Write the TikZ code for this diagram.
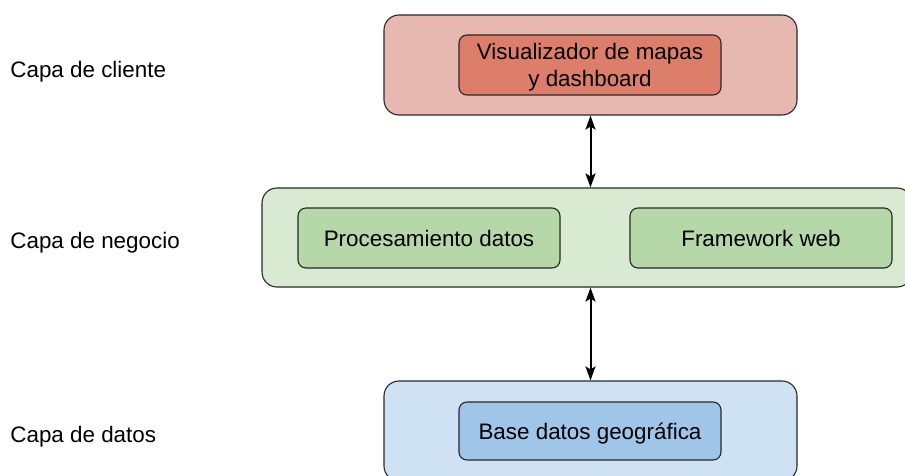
\documentclass[tikz,border=0pt]{standalone}
\usepackage{fontspec}
\setmainfont{Liberation Sans}
\usepackage{xcolor}
\usepackage{tikz}
\usetikzlibrary{arrows.meta,positioning}
\definecolor{clientout}{HTML}{E6B8AF}
\definecolor{clientin}{HTML}{DD7E6B}
\definecolor{logicout}{HTML}{D9EAD3}
\definecolor{logicin}{HTML}{B6D7A8}
\definecolor{dataout}{HTML}{CFE2F3}
\definecolor{datain}{HTML}{9FC5E8}
\definecolor{edgegray}{RGB}{40,40,40}

\begin{document}
\begin{tikzpicture}[
    x=0.5pt,y=-0.5pt,
    layer/.style={rectangle,rounded corners=7.5pt,draw=edgegray,line width=0.55pt,minimum height=50pt},
    part/.style={rectangle,rounded corners=4pt,draw=edgegray,line width=0.55pt,minimum width=131pt,minimum height=30pt,text depth=0pt,align=center,font=\fontsize{11.2}{13.6}\selectfont},
    tag/.style={anchor=west,inner sep=0pt,font=\fontsize{11.2}{13.6}\selectfont},
    arrow/.style={{Stealth[length=7pt,width=5pt,inset=1.5pt]}-{Stealth[length=7pt,width=5pt,inset=1.5pt]},line width=1pt,draw=black}
  ]
    \clip (0,0) rectangle (905,476);
    % capas
    \node[layer,fill=clientout,minimum width=206.5pt] (client) at (590.5,65) {};
    \node[layer,fill=logicout,minimum width=325pt,minimum height=49.5pt] (logic) at (587,237.5) {};
    \node[layer,fill=dataout,minimum width=206.5pt] (data) at (590.5,431) {};
    % componentes
    \node[part,fill=clientin] (viewer) at (590,65) {Visualizador de mapas\\y dashboard};
    \node[part,fill=logicin] (proc) at (429,238) {Procesamiento datos};
    \node[part,fill=logicin] (web) at (761,238) {Framework web};
    \node[part,fill=datain,minimum height=29pt] (geodb) at (590,431) {Base datos geográfica};
    % etiquetas
    \node[tag] (lclient) at (10,72) {Capa de cliente};
    \node[tag] (llogic) at (10,243) {Capa de negocio};
    \node[tag] (ldata) at (10,437) {Capa de datos};
    \draw[arrow] (client.south) -- (client.south |- logic.north);
    \draw[arrow] (client.south |- logic.south) -- (data.north);
  \end{tikzpicture}
\end{document}
